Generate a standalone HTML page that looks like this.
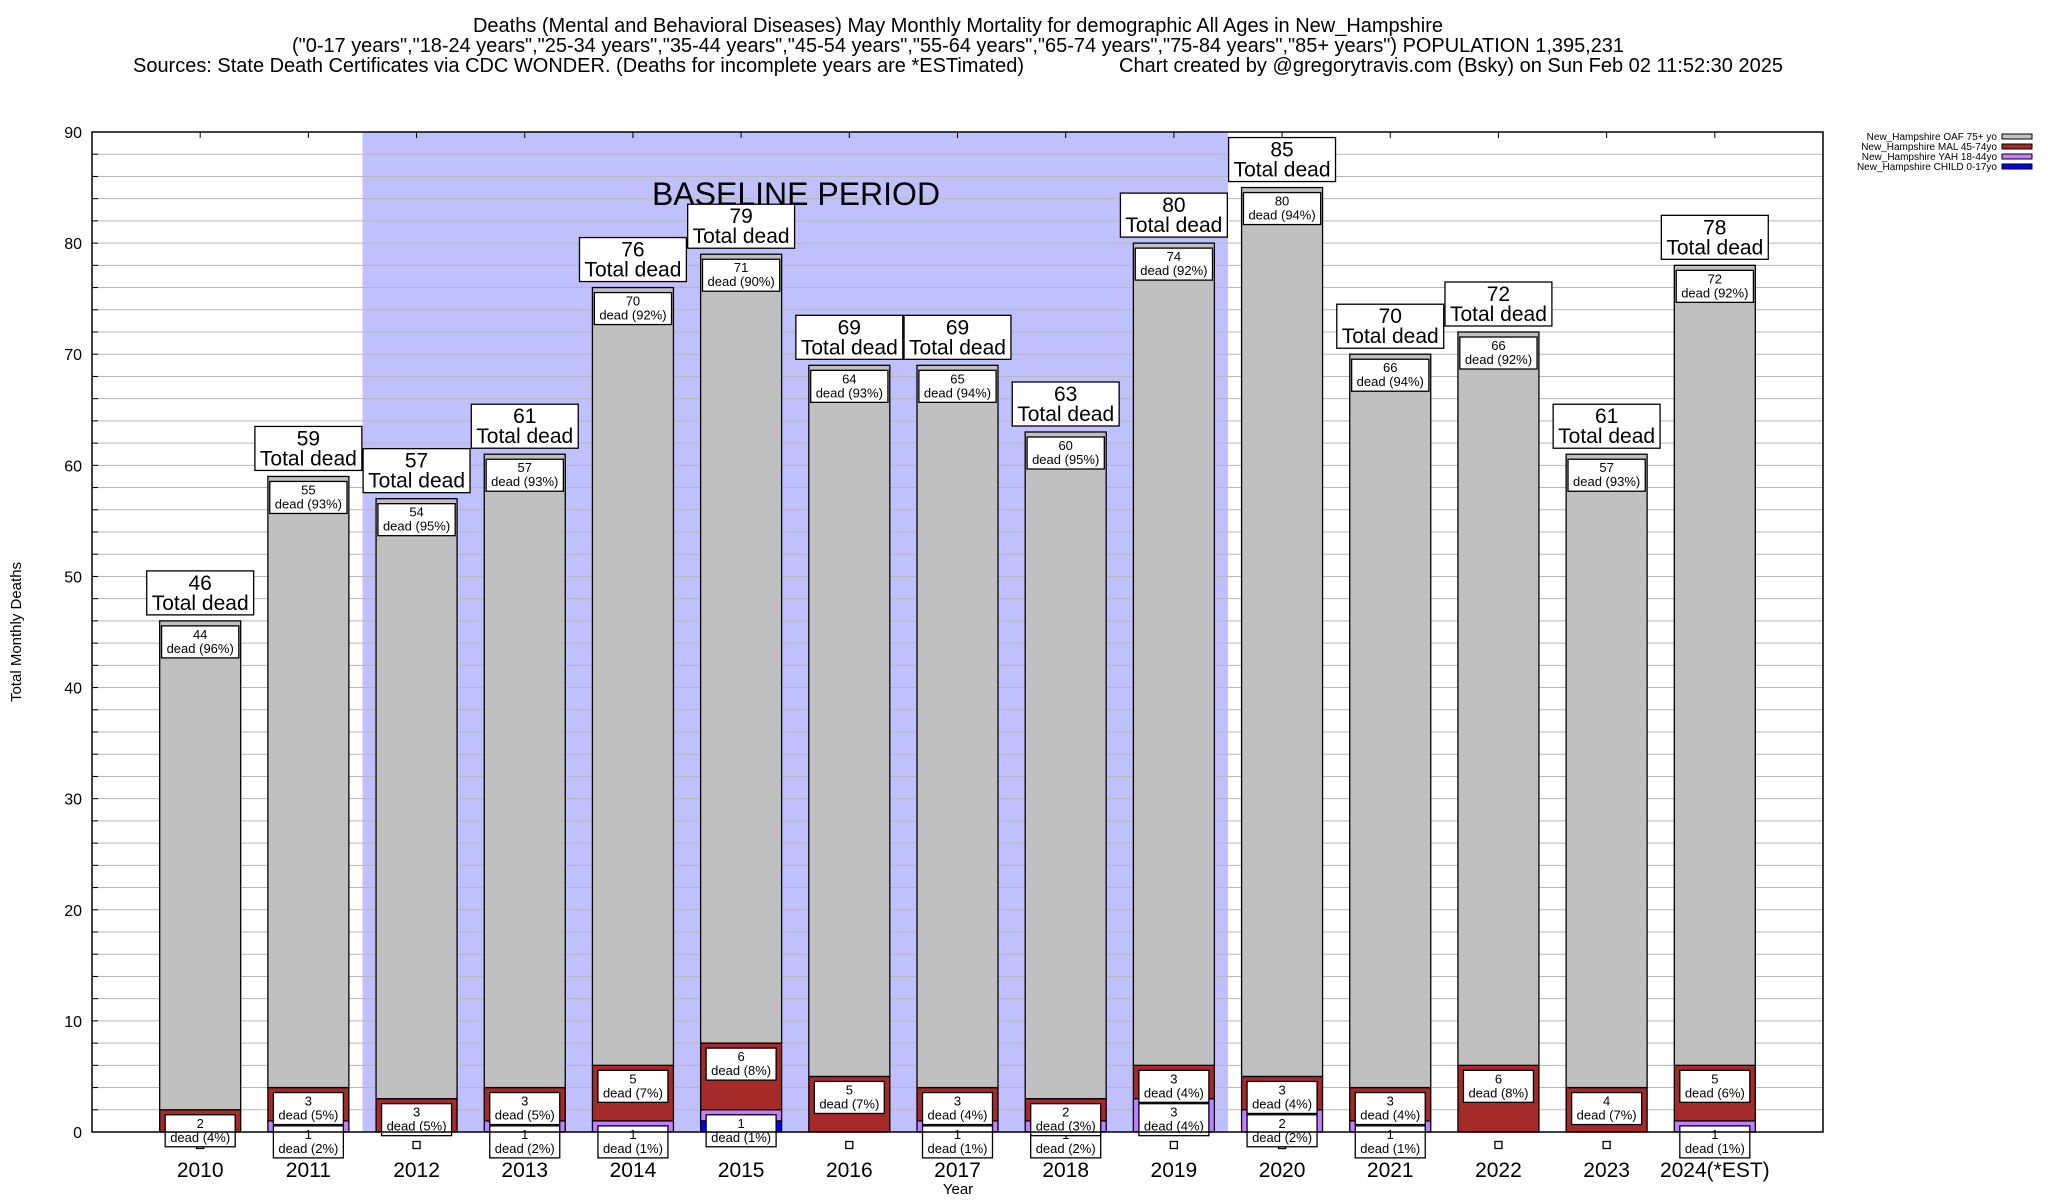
<!DOCTYPE html>
<html><head><meta charset="utf-8"><style>
html,body{margin:0;padding:0;background:#fff;}
svg{display:block;font-family:"Liberation Sans",Arial,sans-serif;}
</style></head><body>
<svg id="chart" width="2048" height="1200" viewBox="0 0 2048 1200" xmlns="http://www.w3.org/2000/svg">
<rect x="0" y="0" width="2048" height="1200" fill="#fff"/>
<g font-size="20" fill="#000">
<text x="958" y="32" text-anchor="middle" textLength="970" lengthAdjust="spacingAndGlyphs">Deaths (Mental and Behavioral Diseases) May Monthly Mortality for demographic All Ages in New_Hampshire</text>
<text x="958" y="52" text-anchor="middle" textLength="1332" lengthAdjust="spacingAndGlyphs">("0-17 years","18-24 years","25-34 years","35-44 years","45-54 years","55-64 years","65-74 years","75-84 years","85+ years") POPULATION 1,395,231</text>
<text x="133" y="72" textLength="891" lengthAdjust="spacingAndGlyphs">Sources: State Death Certificates via CDC WONDER. (Deaths for incomplete years are *ESTimated)</text>
<text x="1119" y="72" textLength="664" lengthAdjust="spacingAndGlyphs">Chart created by @gregorytravis.com (Bsky) on Sun Feb 02 11:52:30 2025</text>
</g>
<g id="plot"></g>
<text transform="translate(21,632) rotate(-90)" text-anchor="middle" font-size="15">Total Monthly Deaths</text>
<text x="958" y="1194" text-anchor="middle" font-size="15">Year</text>
<g font-size="10">
<g><text x="1997" y="140" text-anchor="end">New_Hampshire OAF 75+ yo</text><rect x="2002" y="134" width="30" height="5" fill="#c0c0c0" stroke="#000"/></g>
<g><text x="1997" y="150" text-anchor="end">New_Hampshire MAL 45-74yo</text><rect x="2002" y="144" width="30" height="5" fill="#a52a2a" stroke="#000"/></g>
<g><text x="1997" y="160" text-anchor="end">New_Hampshire YAH 18-44yo</text><rect x="2002" y="154" width="30" height="5" fill="#c080ff" stroke="#000"/></g>
<g><text x="1997" y="170" text-anchor="end">New_Hampshire CHILD 0-17yo</text><rect x="2002" y="164" width="30" height="5" fill="#0000ff" stroke="#000"/></g>
</g>
</svg>
<script>
const years = ["2010","2011","2012","2013","2014","2015","2016","2017","2018","2019","2020","2021","2022","2023","2024(*EST)"];
const totals = [46,59,57,61,76,79,69,69,63,80,85,70,72,61,78];
const oaf = [44,55,54,57,70,71,64,65,60,74,80,66,66,57,72];
const mal = [2,3,3,3,5,6,5,3,2,3,3,3,6,4,5];
const yah = [0,1,0,1,1,1,0,1,1,3,2,1,0,0,1];
const child = [0,0,0,0,0,1,0,0,0,0,0,0,0,0,0];
const yTicks = [0,10,20,30,40,50,60,70,80,90];
const baselineStart = 2; // index of 2012
const baselineEnd = 9;   // index of 2019

const NS = "http://www.w3.org/2000/svg";
const L = 92, R = 1823, T = 132, B = 1132, YMAX = 90;
const slot = (R - L) / (years.length + 1);
const x = i => L + (i + 1) * slot;
const y = v => B - v / YMAX * (B - T);
const BW = 81;
const plot = document.getElementById('plot');
function el(tag, attrs, parent) {
  const e = document.createElementNS(NS, tag);
  for (const k in attrs) e.setAttribute(k, attrs[k]);
  (parent || plot).appendChild(e);
  return e;
}
function pct(v, t) {
  const p = v / t * 100; const f = Math.floor(p);
  if (Math.abs(p - f - 0.5) < 1e-9) return f % 2 === 0 ? f : f + 1;
  return Math.round(p);
}
// baseline band
const band = el('rect', {x: x(baselineStart) - slot / 2, y: T, width: (baselineEnd - baselineStart + 1) * slot, height: B - T, fill: '#c0c0ff'});


// gridlines
for (let v = 2; v < YMAX; v += 2) {
  const g = el('line', {x1: L, x2: R, y1: y(v), y2: y(v), stroke: '#b8b8b8', 'stroke-width': 1});
  
  
  const tk = el('line', {x1: L, x2: L + 6, y1: y(v), y2: y(v), stroke: '#000'});
  
  
}
yTicks.forEach(v => {
  const t = el('text', {x: 82, y: y(v) + 6, 'text-anchor': 'end', 'font-size': 16});
  t.textContent = v;
  
  
});
const bt = el('text', {x: 796, y: 205, 'text-anchor': 'middle', 'font-size': 32});
bt.textContent = 'BASELINE PERIOD';



function labelBox(cx, topY, l1, l2, fs, lh, name) {
  const g = el('g', {});
  
  
  const r = el('rect', {fill: '#fff', stroke: '#000', 'stroke-width': 1.3}, g);
  const t1 = el('text', {x: cx, y: topY + lh - 2, 'text-anchor': 'middle', 'font-size': fs}, g);
  t1.textContent = l1;
  const t2 = el('text', {x: cx, y: topY + 2 * lh - 3, 'text-anchor': 'middle', 'font-size': fs}, g);
  t2.textContent = l2;
  const w = Math.max(t1.getComputedTextLength(), t2.getComputedTextLength()) + 10;
  r.setAttribute('x', cx - w / 2); r.setAttribute('y', topY);
  r.setAttribute('width', w); r.setAttribute('height', 2 * lh + 2);
  return g;
}

years.forEach((yr, i) => {
  const cx = x(i);
  const segs = [[child[i], '#0000ff', 'child'], [yah[i], '#c080ff', 'yah'], [mal[i], '#a52a2a', 'mal'], [oaf[i], '#c0c0c0', 'oaf']];
  let base = 0;
  const tops = [];
  segs.forEach(([v, c, n]) => {
    if (v > 0) {
      const r = el('rect', {x: cx - BW / 2, y: y(base + v), width: BW, height: y(base) - y(base + v), fill: c, stroke: '#000', 'stroke-width': 1.3});
      
      
    }
    base += v;
    tops.push([v, base, n]);
  });
  // top tick
  const tt = el('line', {x1: cx, x2: cx, y1: T, y2: T + 6, stroke: '#000'});
  
  
  // marker
  const my = child[i] > 0 ? y(0) : y(0) + 13;
  const m = el('rect', {x: cx - 3.5, y: my - 3.5, width: 7, height: 7, fill: '#fff', stroke: '#000', 'stroke-width': 1.3});
  
  
  // segment labels (yah, mal, oaf)
  tops.slice(1).forEach(([v, top, n]) => {
    if (v > 0) labelBox(cx, y(top) + 5, String(v), 'dead (' + pct(v, totals[i]) + '%)', 13, 15, 'label-' + n + '-' + yr.slice(0, 4));
  });
  labelBox(cx, y(totals[i]) - 50, String(totals[i]), 'Total dead', 21, 21, 'total-label-' + yr.slice(0, 4));
  const xl = el('text', {x: cx, y: 1177, 'text-anchor': 'middle', 'font-size': 21});
  xl.textContent = yr;
  
  
});
const frame = el('rect', {x: L, y: T, width: R - L, height: B - T, fill: 'none', stroke: '#000', 'stroke-width': 1.5});


</script>
</body></html>
